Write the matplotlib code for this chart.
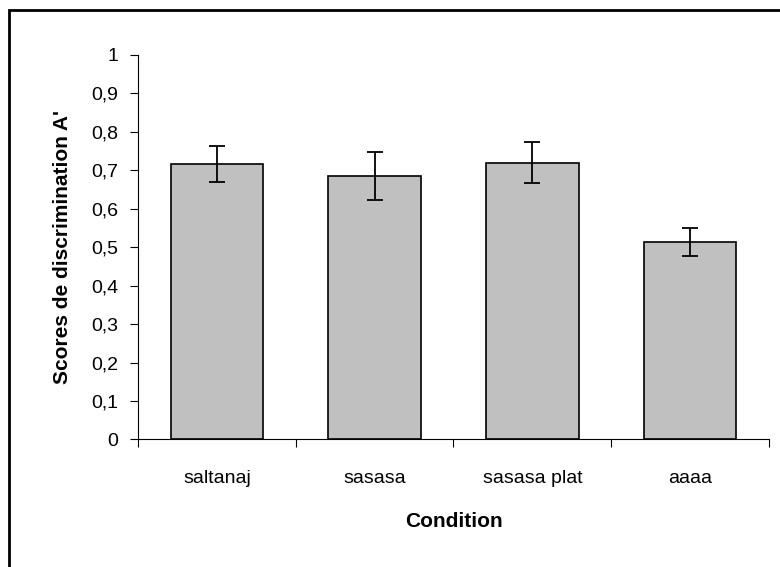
import matplotlib
matplotlib.use("Agg")
import matplotlib.pyplot as plt
from matplotlib.patches import Rectangle

plt.rcParams['font.family'] = ['Liberation Sans', 'DejaVu Sans']

# data
conditions = ['saltanaj', 'sasasa', 'sasasa plat', 'aaaa']
scores = [0.717, 0.685, 0.720, 0.514]
errors = [0.047, 0.062, 0.054, 0.037]
yticks = [0, 0.1, 0.2, 0.3, 0.4, 0.5, 0.6, 0.7, 0.8, 0.9, 1]
ytick_labels = ['0', '0,1', '0,2', '0,3', '0,4', '0,5', '0,6', '0,7', '0,8', '0,9', '1']

fig = plt.figure(figsize=(7.8, 5.67), dpi=100)
ax = fig.add_axes([0.1769, 0.2249, 0.809, 0.6781])

x = list(range(len(conditions)))
ax.bar(x, scores, width=0.585, color='#c0c0c0', edgecolor='black', linewidth=1.2, zorder=2)
ax.errorbar(x, scores, yerr=errors, fmt='none', ecolor='black', elinewidth=1.3,
            capsize=5.5, capthick=1.3, zorder=3)

ax.set_xlim(-0.5, len(conditions) - 0.5)
ax.set_ylim(0, 1)

# y axis
ax.set_yticks(yticks)
ax.set_yticklabels(ytick_labels)
ax.tick_params(axis='y', direction='out', length=6, width=0.8, pad=8, labelsize=14)

# x axis: tick marks between categories, labels centred under bars
ax.set_xticks([i - 0.5 for i in range(len(conditions) + 1)])
ax.set_xticklabels([])
ax.tick_params(axis='x', which='major', direction='out', length=6, width=0.8)
ax.set_xticks(x, minor=True)
ax.set_xticklabels(conditions, minor=True)
ax.tick_params(axis='x', which='minor', length=0, pad=22, labelsize=14)

for side in ['top', 'right']:
    ax.spines[side].set_visible(False)
ax.spines['left'].set_linewidth(0.8)
ax.spines['bottom'].set_linewidth(0.8)

ax.set_xlabel('Condition', fontsize=15, fontweight='bold', labelpad=18)
ax.set_ylabel("Scores de discrimination A'", fontsize=15, fontweight='bold', labelpad=14)

# outer chart frame (cut off at right and bottom)
frame = Rectangle((9 / 780, -0.2), 1.2, 1.2 - 10 / 567, transform=fig.transFigure,
                  fill=False, edgecolor='black', linewidth=2, clip_on=False)
fig.patches.append(frame)

fig.savefig('out.png', dpi=100)
